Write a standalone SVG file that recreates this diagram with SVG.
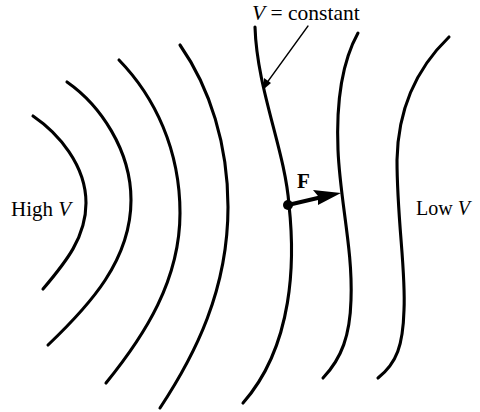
<svg xmlns="http://www.w3.org/2000/svg" width="480" height="412" viewBox="0 0 480 412">
<style>
.eq{fill:none;stroke:#000;stroke-width:3.1;stroke-linecap:round}
.t{font-family:"Liberation Serif","Times New Roman",serif;fill:#000}
.thin{fill:none;stroke:#000;stroke-width:1.3;stroke-linecap:round}
</style>
<rect width="480" height="412" fill="#fff"/>
<g id="curve1"><path class="eq" d="M33,116 C58,133 86,165 86,203 C86,237 66,262 43,289"/></g>
<g id="curve2"><path class="eq" d="M67,82 C100,105 131,150 131,200 C131,260 90,305 48,345"/></g>
<g id="curve3"><path class="eq" d="M119,60 C155,97 180,150 180,213 C180,280 145,335 106,383"/></g>
<g id="curve4"><path class="eq" d="M180,45 C210,88 228,145 228,207 C228,290 195,355 160,408"/></g>
<g id="curve5"><path class="eq" d="M255,27 C257,90 285,150 289,205 C295,260 294,345 243,403"/></g>
<g id="curve6"><path class="eq" d="M358,33 C343,60 336,100 338,150 C340,200 353,250 351,300 C350,335 342,358 323,378"/></g>
<g id="curve7"><path class="eq" d="M449,37 C420,65 398,105 397,160 C397,220 406,270 404,310 C403,345 397,363 378,378"/></g>
<g id="labels">
<text class="t" x="252" y="19.5" font-size="21.5"><tspan font-style="italic">V</tspan> = constant</text>
<text class="t" x="11" y="216" font-size="21">High <tspan font-style="italic">V</tspan></text>
<text class="t" x="416" y="215" font-size="20">Low <tspan font-style="italic">V</tspan></text>
<text class="t" x="297" y="188" font-weight="bold" font-size="21">F</text>
</g>
<g id="connectors">
<path class="thin" d="M308,26 L266,84"/>
<path d="M264,89 L264,78 L271,83 Z" fill="#000"/>
<circle cx="288" cy="205" r="5" fill="#000"/>
<path d="M288,205 L322,197" stroke="#000" stroke-width="4" fill="none"/>
<path d="M341,193 L313,190 L318,196 L318,205 Z" fill="#000"/>
</g>
</svg>
